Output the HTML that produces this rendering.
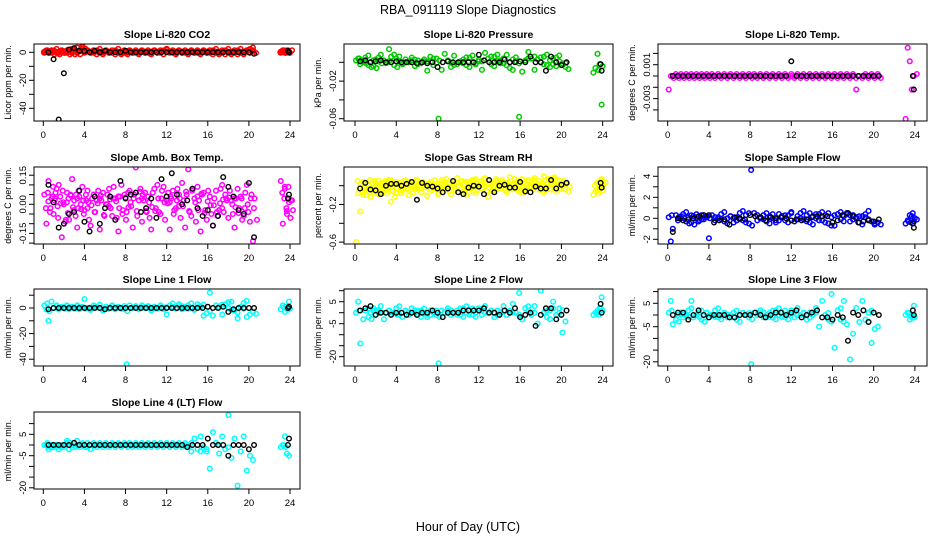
<!DOCTYPE html>
<html><head><meta charset="utf-8"><style>
html,body{margin:0;padding:0;background:#fff;}
svg{display:block;font-family:"Liberation Sans",sans-serif;}
</style></head><body>
<svg id="chart" width="936" height="540" viewBox="0 0 936 540">
<text x="468" y="14" text-anchor="middle" font-size="12.5">RBA_091119  Slope Diagnostics</text>
<text x="468" y="531" text-anchor="middle" font-size="12.5">Hour of Day (UTC)</text>
</svg>
<script>
const hc=[0.1,0.3,0.5,0.8,1.0,1.3,1.5,1.8,2.0,2.3,2.5,2.8,3.0,3.3,3.5,3.8,4.0,4.3,4.6,4.9,5.2,5.5,5.8,6.1,6.4,6.7,7.0,7.3,7.6,7.9,8.1,8.4,8.7,9.0,9.3,9.6,9.9,10.2,10.5,10.8,11.1,11.4,11.7,12.0,12.3,12.6,12.9,13.2,13.5,13.8,14.1,14.4,14.7,15.0,15.3,15.6,15.9,16.2,16.5,16.8,17.1,17.4,17.7,18.0,18.3,18.6,18.9,19.2,19.5,19.8,20.1,20.4,23.1,23.3,23.5,23.7,23.9];
const hb=[0.5,1.0,1.5,2.0,2.5,3.0,3.5,4.0,4.5,5.0,5.5,6.0,6.5,7.0,7.5,8.0,8.5,9.0,9.5,10.0,10.5,11.0,11.5,12.0,12.5,13.0,13.5,14.0,14.5,15.0,15.5,16.0,16.5,17.0,17.5,18.0,18.5,19.0,19.5,20.0,20.5,23.8,23.9];
const xTicks=[0,4,8,12,16,20,24];
const co2C=[0,1,0,0,1,0,0,1,0,0,1,0,2,0,1,4,0,1,0,0,1,0,0,1,0,0,1,0,0,0,0,1,0,0,0,1,0,0,0,1,0,0,1,2,0,0,0,1,0,0,0,1,0,0,0,1,0,0,1,0,0,0,1,0,0,0,1,0,0,1,2,1,0,1,0,1,0];
const co2B=[0,-5,-48,-15,2,3,1,1,0,1,0,1,0,0,0,1,0,0,0,0,0,0,0,0,0,0,0,0,0,0,0,0,0,0,0,0,0,0,0,0,-1,1,0];
const presC=[0.002,0.004,-0.002,0.001,0.005,-0.003,0.000,-0.004,0.003,0.001,0.008,0.002,-0.001,0.014,0.006,-0.003,0.004,0.001,-0.002,0.003,0.000,0.005,-0.004,0.002,-0.001,0.003,-0.009,0.006,-0.003,0.004,-0.060,-0.008,0.009,0.002,-0.005,0.007,-0.002,0.001,0.003,-0.003,0.005,0.000,-0.001,0.003,-0.008,0.010,0.004,-0.002,0.006,0.001,0.002,-0.001,0.008,-0.006,0.003,0.001,-0.058,-0.010,0.002,0.011,0.004,-0.008,0.003,0.000,0.006,-0.003,0.002,-0.002,0.005,0.001,-0.003,-0.005,-0.011,-0.006,0.009,-0.002,-0.045];
const presB=[0.001,0.002,0.000,0.001,0.002,0.000,0.000,0.001,0.000,0.000,0.000,-0.001,0.000,-0.001,0.000,-0.005,0.000,0.001,0.000,0.000,0.000,0.000,0.000,0.008,0.002,0.000,0.000,0.000,0.003,0.000,0.000,0.001,0.000,0.006,0.000,0.000,-0.009,0.006,0.000,-0.003,0.000,-0.002,-0.009];
const tempC=[-0.0012,0,0,0,0,0,0,0,0,0,0,0,0,0,0,0,0,0,0,0,0,0,0,0,0,0,0,0,0,0,0,0,0,0,0,0,0,0,0,0,0,0,0,0,0,0,0,0,0,0,0,0,0,0,0,0,0,0,0,0,0,0,0,0,-0.0012,0,0,0,0,0,0,0,-0.0038,0.0025,0.0013,-0.0012,0];
const tempB=[0,0,0,0,0,0,0,0,0,0,0,0,0,0,0,0,0,0,0,0,0,0,0,0.0013,0,0,0,0,0,0,0,0,0,0,0,0,0,0,0,0,0,0,-0.0012];
const ambC=[0.05,-0.1,0.12,0.03,-0.05,0.08,0.1,-0.17,0.0,0.06,-0.08,0.13,0.02,-0.12,0.04,0.09,-0.03,0.07,-0.11,0.05,0.02,-0.13,0.06,0.0,0.08,-0.06,0.03,-0.14,0.1,0.05,-0.04,0.07,-0.12,0.19,0.02,-0.09,0.06,0.04,-0.13,0.08,0.1,-0.05,0.09,0.02,-0.13,0.07,-0.02,0.05,0.11,-0.12,0.18,-0.06,0.03,0.09,-0.14,0.06,-0.08,0.04,-0.11,0.07,-0.03,0.1,0.05,-0.07,0.02,-0.12,0.08,0.04,-0.06,0.1,-0.09,-0.19,0.12,-0.1,0.08,-0.05,0.01];
const ambC2=[-0.02,0.06,-0.04,0.09,0.03,-0.07,0.04,0.01,-0.09,0.03,0.05,-0.03,-0.06,0.07,0.0,-0.05,0.05,-0.08,0.03,-0.04,0.07,0.02,-0.06,0.05,-0.02,0.09,-0.07,0.04,-0.03,-0.08,0.06,-0.01,0.05,-0.06,0.08,0.02,-0.04,-0.07,0.06,-0.02,-0.04,0.07,-0.08,0.06,0.03,-0.03,0.08,-0.07,0.02,0.05,-0.04,0.08,-0.09,0.02,0.05,-0.03,0.07,-0.05,0.03,-0.06,0.08,-0.04,0.02,0.07,-0.05,0.03,-0.02,-0.08,0.06,-0.04,0.05,0.03,0.06,0.03,-0.02,0.09,-0.07];
const ambB=[0.1,0.01,-0.12,-0.1,-0.05,-0.04,0.07,-0.09,-0.14,0.04,-0.1,-0.02,0.04,-0.08,0.12,0.03,0.05,0.06,-0.04,-0.02,0.03,-0.07,0.13,0.04,0.16,0.05,0.0,0.02,0.08,-0.02,-0.06,-0.03,-0.11,-0.06,0.14,0.09,0.04,-0.03,-0.05,0.11,-0.17,0.03,0.05];
const rhC=[-0.6,-0.08,0.02,-0.1,-0.05,0.0,-0.12,-0.04,0.03,-0.09,0.01,-0.06,0.04,-0.02,-0.17,0.0,-0.08,0.03,-0.05,0.06,-0.1,0.01,-0.04,0.05,-0.07,0.02,-0.11,0.04,-0.03,0.0,-0.08,0.06,-0.02,0.03,-0.09,0.05,0.08,-0.04,0.02,-0.1,0.04,-0.06,0.07,0.0,-0.03,0.08,-0.12,0.03,-0.05,0.06,-0.02,0.04,-0.07,0.09,0.01,-0.04,0.05,-0.08,0.02,0.06,-0.03,0.08,0.0,-0.05,0.1,-0.02,0.06,0.03,-0.06,0.05,0.0,-0.04,-0.1,-0.06,0.02,-0.03,0.07];
const rhC2=[0.05,-0.03,-0.07,0.04,-0.1,0.06,-0.02,0.05,-0.06,0.02,-0.08,0.05,-0.04,0.06,-0.06,0.04,-0.02,-0.08,0.05,-0.03,0.04,-0.07,0.06,-0.03,0.04,-0.06,0.02,-0.05,0.06,-0.09,0.03,-0.04,0.07,-0.06,0.02,-0.05,0.0,0.05,-0.07,0.04,-0.03,0.06,-0.05,0.04,0.07,-0.06,0.02,-0.04,0.07,-0.03,0.06,-0.05,0.03,-0.04,0.07,0.05,-0.06,0.03,-0.04,-0.02,0.06,-0.04,0.05,0.03,-0.05,0.07,-0.04,0.09,0.01,-0.03,0.05,0.02,0.0,0.03,-0.05,0.06,0.0];
const rhB=[-0.03,0.03,-0.04,-0.05,-0.09,0.0,0.02,0.02,0.0,0.02,0.04,-0.15,0.03,0.0,-0.01,-0.03,-0.07,-0.03,0.05,-0.07,-0.09,-0.02,0.0,-0.01,-0.09,0.06,-0.07,0.0,0.01,-0.02,-0.02,0.04,-0.06,-0.07,-0.01,-0.03,-0.03,0.06,-0.03,0.01,0.03,0.03,-0.02];
const sfC=[0.1,-2.2,-1.0,0.3,-0.2,0.2,0.4,-0.3,0.1,-0.4,0.2,0.0,-0.3,0.3,-0.1,0.2,-1.9,0.3,-0.2,0.1,0.4,-0.3,0.0,0.2,-0.4,0.1,0.5,-0.2,0.3,-0.5,4.6,0.5,-0.2,0.1,0.3,-0.3,0.2,0.0,-0.4,0.4,0.1,-0.2,0.3,0.6,-0.3,0.2,0.5,-0.1,0.3,-0.4,0.2,0.0,0.4,-0.2,0.3,-0.5,0.1,-0.7,0.4,-0.1,0.2,0.5,-0.3,0.3,0.0,-0.4,0.2,0.1,0.7,-0.3,-0.6,-0.4,-0.5,-0.2,0.3,0.2,-0.3];
const sfB=[-1.3,0.0,-0.2,-0.1,0.0,0.2,0.3,0.3,-0.4,-0.2,-0.1,-0.6,0.1,0.0,-0.1,0.3,0.2,0.1,-0.2,0.1,0.0,0.1,0.0,-0.2,-0.1,-0.2,-0.1,0.1,0.2,0.2,0.2,-0.4,-0.2,0.3,0.5,0.2,-0.4,-0.3,-0.2,-0.3,-0.1,-0.5,-0.9];
const l1C=[2,-1,-10,5,0,2,-1,1,0,2,-1,1,0,2,-1,1,7,0,-1,2,1,0,-2,1,0,2,-1,1,0,-1,-44,2,0,1,-1,2,0,1,-2,1,0,2,-1,-5,2,1,0,3,-1,1,2,0,-1,3,1,-6,-4,12,-6,2,1,-5,3,0,5,-2,-8,1,4,-7,-5,-3,-1,2,-3,1,5];
const l1B=[-1,0,0,0,0,0,0,0,0,0,0,-1,0,0,0,0,0,0,0,0,0,0,0,0,0,0,0,0,0,0,0,1,0,0,1,-3,-1,0,0,0,0,0,1];
const l2C=[0,5,-14,-3,1,-2,0,2,-1,1,3,-3,0,1,-1,0,2,-1,0,1,-1,2,0,-1,1,0,-2,1,0,-1,-23,1,0,2,-1,0,1,-1,2,0,1,-1,0,2,-1,3,0,1,-2,1,0,3,-1,1,4,0,9,-3,2,1,-1,3,-5,10,0,-2,1,5,-1,2,-9,-4,-1,0,1,2,7];
const l2B=[1,2,3,-1,0,0,-1,0,0,-1,0,-1,0,0,1,0,-2,0,0,0,1,1,1,1,2,0,0,-1,1,0,2,-2,-1,0,-6,-1,2,2,-3,-1,1,4,0];
const l3C=[1,6,-4,-2,0,1,-1,0,2,6,-1,0,1,-2,0,1,-1,0,2,-1,0,1,-1,0,1,-2,0,1,0,-1,-21,1,0,2,-1,0,1,-1,2,0,1,-1,0,2,-1,3,0,1,-2,1,0,3,-5,6,0,-2,9,-14,2,-2,6,-4,-19,-8,3,-3,6,-2,1,-12,-6,-5,0,1,-2,0,4];
const l3B=[0,1,1,-2,0,2,0,-1,0,0,0,-1,-1,0,0,0,1,0,-1,0,1,1,0,1,2,-1,0,1,2,-1,-1,-2,0,-1,-11,1,0,2,-3,1,0,2,0];
const l4C=[0,0,-2,0,-1,0,-2,0,0,2,-2,0,1,0,0,0,0,-1,0,0,0,0,0,0,0,0,0,0,0,0,0,0,0,0,0,0,0,0,0,0,0,0,0,0,0,0,0,0,0,0,0,-3,3,-2,4,-1,-3,-11,6,1,-4,4,-2,14,-6,3,-19,-3,4,-12,-5,-7,-1,0,4,-4,-5];
const l4B=[0,0,0,0,0,1,0,0,0,0,0,0,0,0,0,0,0,0,0,0,0,0,0,0,0,0,0,-1,0,0,0,3,0,0,0,-5,0,0,0,-2,0,0,3];

const cols=[{l:34,r:300,x0:43.3,k:10.28},{l:344,r:613,x0:355,k:10.32},{l:658,r:927,x0:667.7,k:10.3}];
const rows=[{t:44,b:121},{t:167,b:244},{t:289,b:366},{t:412,b:489}];
const panels=[
 {id:'co2',title:'Slope Li-820 CO2',yl:'Licor ppm per min.',col:'#ff0000',c:0,r:0,z:52.3,s:1.4,ticks:[0,-10,-20,-30,-40],labs:{'0':'0','-20':'-20','-40':'-40'},C:co2C,B:co2B},
 {id:'pressure',title:'Slope Li-820 Pressure',yl:'kPa per min.',col:'#00cc00',c:1,r:0,z:62.3,s:940,ticks:[0,-0.02,-0.04,-0.06],labs:{'-0.02':'-0.02','-0.06':'-0.06'},C:presC,B:presB},
 {id:'temp',title:'Slope Li-820 Temp.',yl:'degrees C per min.',col:'#ff00ff',c:2,r:0,z:76,s:11300,ticks:[0.002,0.001,0,-0.001,-0.002,-0.003],labs:{'0.001':'0.001','-0.002':'-0.003'},C:tempC,B:tempB},
 {id:'amb-box-temp',title:'Slope Amb. Box Temp.',yl:'degrees C per min.',col:'#ff00ff',c:0,r:1,z:204.3,s:194,ticks:[0.15,0.1,0.05,0,-0.05,-0.1,-0.15,-0.2],labs:{'0.15':'0.15','0':'0.00','-0.15':'-0.15'},C:ambC,C2:ambC2,B:ambB},
 {id:'gas-rh',title:'Slope Gas Stream RH',yl:'percent per min.',col:'#ffff00',c:1,r:1,z:185.7,s:94,ticks:[0,-0.2,-0.4,-0.6],labs:{'-0.2':'-0.2','-0.6':'-0.6'},C:rhC,C2:rhC2,B:rhB},
 {id:'sample-flow',title:'Slope Sample Flow',yl:'ml/min per min.',col:'#0000ff',c:2,r:1,z:218.3,s:10.5,ticks:[4,3,2,1,0,-1,-2],labs:{'4':'4','2':'2','0':'0','-2':'-2'},C:sfC,B:sfB},
 {id:'line1',title:'Slope Line 1 Flow',yl:'ml/min per min.',col:'#00ffff',c:0,r:2,z:308,s:1.28,ticks:[10,0,-10,-20,-30,-40],labs:{'0':'0','-20':'-20','-40':'-40'},C:l1C,B:l1B},
 {id:'line2',title:'Slope Line 2 Flow',yl:'ml/min per min.',col:'#00ffff',c:1,r:2,z:312.7,s:2.2,ticks:[10,5,0,-5,-10,-15,-20],labs:{'5':'5','-5':'-5','-20':'-20'},C:l2C,B:l2B},
 {id:'line3',title:'Slope Line 3 Flow',yl:'ml/min per min.',col:'#00ffff',c:2,r:2,z:315,s:2.34,ticks:[10,5,0,-5,-10,-15,-20],labs:{'5':'5','-5':'-5','-20':'-20'},C:l3C,B:l3B},
 {id:'line4',title:'Slope Line 4 (LT) Flow',yl:'ml/min per min.',col:'#00ffff',c:0,r:3,z:445,s:2.14,ticks:[10,5,0,-5,-10,-15,-20],labs:{'5':'5','-5':'-5','-20':'-20'},C:l4C,B:l4B}
];
const NS='http://www.w3.org/2000/svg';
const svg=document.getElementById('chart');
function mk(tag,attrs,parent){const e=document.createElementNS(NS,tag);for(const k in attrs)e.setAttribute(k,attrs[k]);parent.appendChild(e);return e;}
panels.forEach(p=>{
 const C=cols[p.c],R=rows[p.r];
 const xs=h=>C.x0+h*C.k, ys=v=>p.z-v*p.s;
 const g=mk('g',{},svg);
 
 
 const clip=mk('clipPath',{id:'clip-'+p.id},g);
 mk('rect',{x:C.l,y:R.t,width:C.r-C.l,height:R.b-R.t},clip);
 const t=mk('text',{x:(C.l+C.r)/2,y:R.t-6,'text-anchor':'middle','font-size':'10.5','font-weight':'bold'},g);
 t.textContent=p.title;
 
 
 const yl=mk('text',{transform:`translate(${C.l-23},${(R.t+R.b)/2}) rotate(-90)`,'text-anchor':'middle','font-size':'9'},g);
 yl.textContent=p.yl;
 
 
 const xa=mk('g',{stroke:'#000','stroke-width':'1'},g);
 
 
 mk('line',{x1:xs(xTicks[0]),x2:xs(xTicks[xTicks.length-1]),y1:R.b,y2:R.b},xa);
 xTicks.forEach(v=>{
  mk('line',{x1:xs(v),x2:xs(v),y1:R.b,y2:R.b+5},xa);
  const tl=mk('text',{x:xs(v),y:R.b+17,'text-anchor':'middle','font-size':'9.5',stroke:'none'},g);
  tl.textContent=v;
  
  
 });
 const ya=mk('g',{stroke:'#000','stroke-width':'1'},g);
 
 
 p.ticks.forEach(v=>{
  const y=ys(v);
  if(y<R.t-1||y>R.b+1)return;
  mk('line',{x1:C.l-5,x2:C.l,y1:y,y2:y},ya);
  const key=String(v);
  if(p.labs[key]!==undefined){
   const tl=mk('text',{transform:`translate(${C.l-8},${y}) rotate(-90)`,'text-anchor':'middle','font-size':'9.5'},g);
   tl.textContent=p.labs[key];
   
   
  }
 });
 const pts=mk('g',{'clip-path':`url(#clip-${p.id})`,fill:'none'},g);
 
 
 hc.forEach((h,i)=>{
  const c=mk('circle',{cx:xs(h),cy:ys(p.C[i]),r:2.3,stroke:p.col,'stroke-width':p.id==='co2'?2.4:1.5},pts);
  
  
  if(p.id==='co2'||Math.abs(p.C[i]*p.s)<6){
   const c2=mk('circle',{cx:xs(h)+3,cy:ys(p.C[i])+(i%2?2:-2),r:2.3,stroke:p.col,'stroke-width':1.5},pts);
   
   
  }
  if(p.C2){
   const c3=mk('circle',{cx:xs(h)+1.5,cy:ys(p.C2[i]),r:2.3,stroke:p.col,'stroke-width':1.5},pts);
   
   
   const c4=mk('circle',{cx:xs(h)+4,cy:ys((p.C[i]+p.C2[i])/2),r:2.3,stroke:p.col,'stroke-width':1.5},pts);
   
   
  }
 });
 hb.forEach((h,i)=>{
  const c=mk('circle',{cx:xs(h),cy:ys(p.B[i]),r:2.3,stroke:'#000','stroke-width':1.4},pts);
  
  
 });
 const box=mk('rect',{x:C.l,y:R.t,width:C.r-C.l,height:R.b-R.t,fill:'none',stroke:'#000','stroke-width':'1'},g);
 
 
});
</script>
</body></html>
